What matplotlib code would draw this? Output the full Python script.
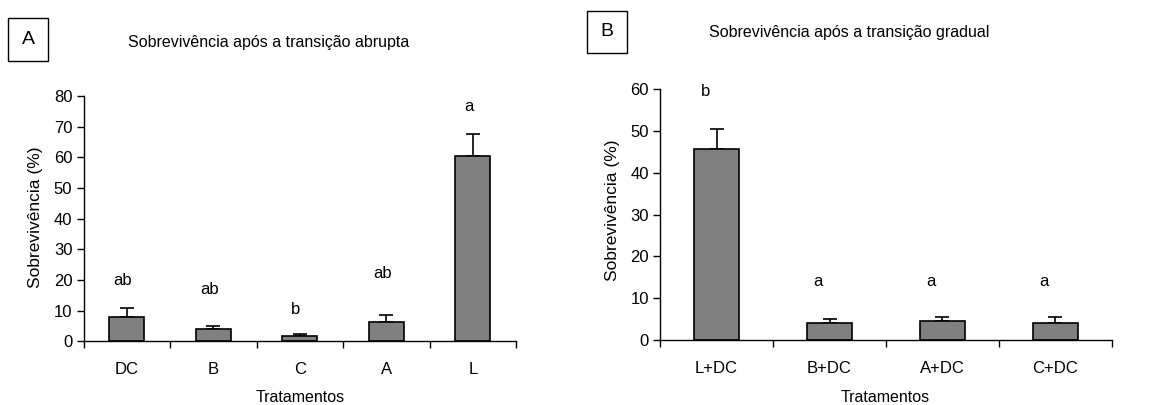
import matplotlib
matplotlib.use("Agg")
import matplotlib.pyplot as plt
from matplotlib.patches import Rectangle
import numpy as np

plt.rcParams['font.family'] = ['Liberation Sans', 'DejaVu Sans']

# Panel A data
cats_a = ["DC", "B", "C", "A", "L"]
vals_a = [8.0, 4.0, 1.7, 6.4, 60.5]
err_a = [2.8, 1.0, 0.6, 2.3, 7.2]
letters_a = ["ab", "ab", "b", "ab", "a"]
letter_y_a = [19.7, 17.0, 10.5, 22.2, 76.5]
yticks_a = [0, 10, 20, 30, 40, 50, 60, 70, 80]

# Panel B data
cats_b = ["L+DC", "B+DC", "A+DC", "C+DC"]
vals_b = [45.7, 4.0, 4.6, 4.0]
err_b = [4.7, 0.95, 1.0, 1.6]
letters_b = ["b", "a", "a", "a"]
letter_y_b = [59.5, 14.1, 14.1, 14.1]
yticks_b = [0, 10, 20, 30, 40, 50, 60]

W, H = 1161, 405
fig = plt.figure(figsize=(W / 100, H / 100), dpi=100)

FS_TICK = 12
FS_YLAB = 12.5
FS_TITLE = 11.5
FS_XLAB = 11.5
FS_LET = 12


def px(x0, y0, x1, y1):
    return [x0 / W, 1 - y1 / H, (x1 - x0) / W, (y1 - y0) / H]


def draw_panel(rect, cats, vals, errs, letters, letter_y, yticks, ymax, letter_dx):
    ax = fig.add_axes(rect)
    x = np.arange(len(cats))
    ax.bar(x, vals, width=0.4, color="#808080", edgecolor="black", linewidth=1.2, zorder=2)
    ax.errorbar(x, vals, yerr=[np.zeros(len(vals)), errs], fmt="none", ecolor="black",
                elinewidth=1.2, capsize=5, capthick=1.2, zorder=1)
    for xi, lab, ly in zip(x, letters, letter_y):
        ax.annotate(lab, (xi, ly), xytext=(letter_dx, 0), textcoords="offset points",
                    ha="center", va="center", fontsize=FS_LET)
    ax.set_xlim(-0.5, len(cats) - 0.5)
    ax.set_ylim(0, ymax)
    ax.set_yticks(yticks)
    ax.set_xticks(np.arange(len(cats) + 1) - 0.5)
    ax.set_xticklabels([])
    ax.set_xticks(x, minor=True)
    ax.set_xticklabels(cats, minor=True, fontsize=FS_TICK)
    ax.tick_params(axis="x", which="minor", length=0, pad=15)
    ax.tick_params(axis="x", which="major", length=5, width=1, direction="out")
    ax.tick_params(axis="y", length=5, width=1, direction="out", labelsize=FS_TICK, pad=3)
    for s in ["top", "right"]:
        ax.spines[s].set_visible(False)
    for s in ["left", "bottom"]:
        ax.spines[s].set_linewidth(1)
    ax.patch.set_alpha(0)
    return ax


axA = draw_panel(px(83.5, 96, 516, 341.3), cats_a, vals_a, err_a, letters_a, letter_y_a,
                 yticks_a, 80, -3)
axB = draw_panel(px(660, 89.3, 1112, 340), cats_b, vals_b, err_b, letters_b, letter_y_b,
                 yticks_b, 60, -8)

# titles
fig.text(269 / W, 1 - 43 / H, "Sobrevivência após a transição abrupta", ha="center", va="center", fontsize=FS_TITLE)
fig.text(849 / W, 1 - 33 / H, "Sobrevivência após a transição gradual", ha="center", va="center", fontsize=FS_TITLE)

# y labels
fig.text(36 / W, 1 - 217 / H, "Sobrevivência (%)", rotation=90, ha="center", va="center", fontsize=FS_YLAB)
fig.text(613 / W, 1 - 210 / H, "Sobrevivência (%)", rotation=90, ha="center", va="center", fontsize=FS_YLAB)

# x labels
fig.text(300 / W, 1 - 398 / H, "Tratamentos", ha="center", va="center", fontsize=FS_XLAB)
fig.text(885 / W, 1 - 398 / H, "Tratamentos", ha="center", va="center", fontsize=FS_XLAB)

# panel boxes
for (x0, y0, x1, y1), lab in [((8, 18, 48, 61), "A"), ((587, 11, 627, 53), "B")]:
    fig.patches.append(Rectangle((x0 / W, 1 - y1 / H), (x1 - x0) / W, (y1 - y0) / H,
                                 transform=fig.transFigure, fill=False, edgecolor="black", linewidth=1))
    fig.text((x0 + x1) / 2 / W, 1 - (y0 + y1) / 2 / H, lab, ha="center", va="center", fontsize=14)

fig.savefig("out.png", dpi=100)
